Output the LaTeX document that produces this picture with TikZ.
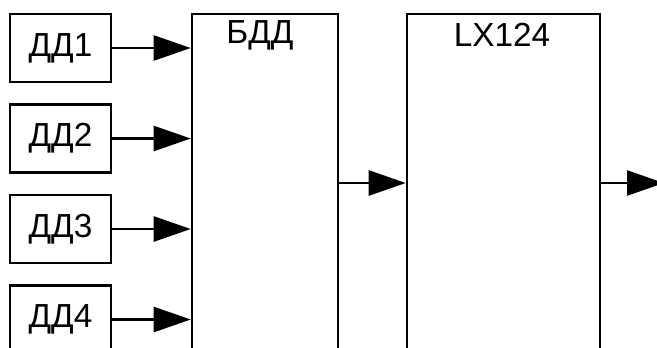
\documentclass[tikz,border=0pt]{standalone}
\usepackage{fontspec}
\setmainfont{Liberation Sans}
\usetikzlibrary{arrows.meta}

\begin{document}
\begin{tikzpicture}[x=0.75pt,y=0.75pt,yscale=-1,xscale=1,
  blk/.style={draw,line width=1.9pt,inner sep=0pt,font=\fontsize{25}{30}\selectfont},
  sensor/.style={blk,minimum width=75.75pt,minimum height=51pt},
  arr/.style={line width=1.9pt,-{Triangle[length=27.75pt,width=18.75pt]}}]
\useasboundingbox (0,0) rectangle (657,347);
\clip (0,0) rectangle (657,347);

% Text Node
\node [sensor] (dd1) at (60.5,48) {ДД1};
% Text Node
\node [sensor] (dd2) at (60.5,138.5) {ДД2};
% Text Node
\node [sensor] (dd3) at (60.5,229) {ДД3};
% Text Node
\node [sensor] (dd4) at (60.5,319.5) {ДД4};

%Blocks (cut at the bottom)
\node [blk,minimum width=109.5pt,minimum height=300pt] (bdd) at (265,214) {};
\node [blk,minimum width=144.75pt,minimum height=300pt] (lx) at (503.5,214) {};
% Text Node
\node [font=\fontsize{25}{30}\selectfont] (bddlbl) at (260,35) {БДД};
% Text Node
\node [font=\fontsize{25}{30}\selectfont] (lxlbl) at (502,35) {LX124};

%Straight Lines
\foreach \n in {dd1,dd2,dd3,dd4}
  \draw [arr] (\n) -- (\n -| bdd.west);
\coordinate (mid) at (0,183);
\coordinate (out) at (664,183);
\draw [arr] (bdd.east |- mid) -- (lx.west |- mid);
\draw [arr] (lx.east |- mid) -- (out);

\end{tikzpicture}
\end{document}
